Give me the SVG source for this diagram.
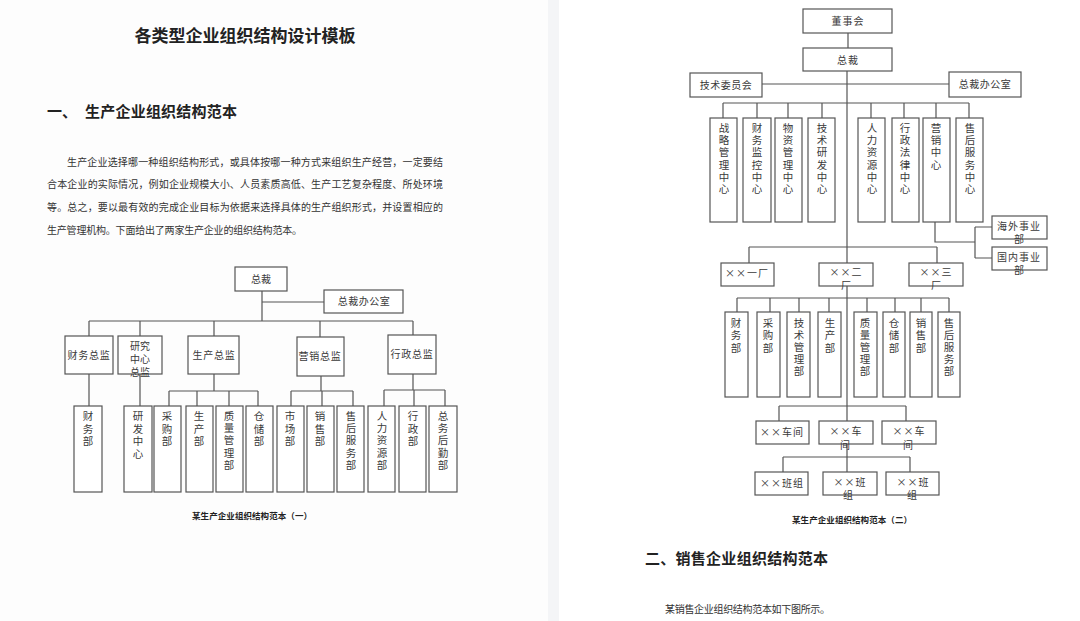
<svg xmlns="http://www.w3.org/2000/svg" width="1080" height="621" viewBox="0 0 1080 621">
<style>
text{font-family:"Noto Sans CJK SC","Noto Sans",sans-serif;fill:#3a3a3a}
.t{font-size:17px;font-weight:bold;fill:#222}
.h{font-size:15px;font-weight:bold;fill:#222}
.p{font-size:10px;fill:#333}
.cap{font-size:8.5px;font-weight:bold;fill:#222}
.n{font-size:10px;text-anchor:middle}
.v{font-size:10.5px;writing-mode:vertical-rl;text-anchor:start;letter-spacing:2px}
.v2{font-size:10.5px;writing-mode:vertical-rl;text-anchor:start;letter-spacing:1.6px}
rect{fill:#fff;stroke:#555;stroke-width:1.2}
.c path{fill:none;stroke:#555;stroke-width:1.2}
</style>
<rect x="0" y="0" width="548" height="621" style="fill:#fdfdfd;stroke:none"/>
<rect x="548" y="0" width="11" height="621" style="fill:#f4f5f7;stroke:none"/>
<rect x="559" y="0" width="521" height="621" style="fill:#fff;stroke:none"/>

<text class="t" x="245" y="42" text-anchor="middle">各类型企业组织结构设计模板</text>
<text class="h" x="47" y="116.5">一、</text>
<text class="h" x="85" y="116.5" textLength="152">生产企业组织结构范本</text>
<text class="p" x="67" y="165.5" textLength="376">生产企业选择哪一种组织结构形式，或具体按哪一种方式来组织生产经营，一定要结</text>
<text class="p" x="47" y="187.5" textLength="396">合本企业的实际情况，例如企业规模大小、人员素质高低、生产工艺复杂程度、所处环境</text>
<text class="p" x="47" y="210.5" textLength="396">等。总之，要以最有效的完成企业目标为依据来选择具体的生产组织形式，并设置相应的</text>
<text class="p" x="47" y="233.5" textLength="255">生产管理机构。下面给出了两家生产企业的组织结构范本。</text>

<g id="connectors1" class="c">
<path d="M262,291V321M262,302H324M89,321H413M89,321V336M140,321V336M214,321V336M320,321V337M413,321V335"/>
<path d="M89,374V406M140,374V406"/>
<path d="M214,374V391M169,391H258M169,391V406M197,391V406M229,391V406M258,391V406"/>
<path d="M321,376V391M291,391H353M291,391V406M322,391V406M353,391V406"/>
<path d="M413,374V390M384,390H445M384,390V406M414,390V406M445,390V406"/>
</g>

<g id="c1-ceo"><rect x="235" y="267" width="52" height="24"/><text class="n" x="261" y="283">总裁</text></g>
<g id="c1-office"><rect x="324" y="290" width="79" height="23"/><text class="n" x="364" y="305" letter-spacing="0.5">总裁办公室</text></g>
<g id="c1-cfo"><rect x="65" y="336" width="48" height="38"/><text class="n" x="89" y="359" letter-spacing="0.8">财务总监</text></g>
<g id="c1-rd"><rect x="118" y="336" width="44" height="38"/><text class="n" x="140" y="349.5">研究</text><text class="n" x="140" y="362.5">中心</text><text class="n" x="140" y="375.5">总监</text></g>
<g id="c1-prod"><rect x="188" y="336" width="51" height="38"/><text class="n" x="214" y="359" letter-spacing="0.8">生产总监</text></g>
<g id="c1-mkt"><rect x="297" y="337" width="47" height="39"/><text class="n" x="320" y="360" letter-spacing="0.8">营销总监</text></g>
<g id="c1-adm"><rect x="388" y="335" width="48" height="39"/><text class="n" x="412" y="358" letter-spacing="0.8">行政总监</text></g>

<g id="c1-b1"><rect x="74" y="406" width="28" height="86"/><text class="v" x="88" y="411">财务部</text></g>
<g id="c1-b2"><rect x="124" y="406" width="28" height="86"/><text class="v" x="138" y="411">研发中心</text></g>
<g id="c1-b3"><rect x="154" y="406" width="27" height="86"/><text class="v" x="167" y="411">采购部</text></g>
<g id="c1-b4"><rect x="186" y="406" width="27" height="86"/><text class="v" x="199" y="411">生产部</text></g>
<g id="c1-b5"><rect x="216" y="406" width="27" height="86"/><text class="v2" x="229" y="411">质量管理部</text></g>
<g id="c1-b6"><rect x="246" y="406" width="27" height="86"/><text class="v" x="259" y="411">仓储部</text></g>
<g id="c1-b7"><rect x="277" y="406" width="27" height="86"/><text class="v" x="290" y="411">市场部</text></g>
<g id="c1-b8"><rect x="307" y="406" width="27" height="86"/><text class="v" x="320" y="411">销售部</text></g>
<g id="c1-b9"><rect x="337" y="406" width="27" height="86"/><text class="v2" x="351" y="411">售后服务部</text></g>
<g id="c1-b10"><rect x="368" y="406" width="27" height="86"/><text class="v2" x="382" y="411">人力资源部</text></g>
<g id="c1-b11"><rect x="399" y="406" width="27" height="86"/><text class="v" x="413" y="411">行政部</text></g>
<g id="c1-b12"><rect x="429" y="406" width="28" height="86"/><text class="v2" x="443" y="411">总务后勤部</text></g>

<text class="cap" x="192" y="519" textLength="120">某生产企业组织结构范本（一）</text>

<g id="connectors2" class="c">
<path d="M848,33V48M847,71V472M762,84H949"/>
<path d="M723,103H969M723,103V118M757,103V118M788,103V118M822,103V118M871,103V118M904,103V118M936,103V118M969,103V118"/>
<path d="M935,222V242H975M975,227V258M975,227H992M975,258H992"/>
<path d="M749,247H937M749,247V263M937,247V263"/>
<path d="M737,298H949M737,298V312M770,298V312M799,298V312M829,298V312M867,298V312M895,298V312M921,298V312M949,298V312"/>
<path d="M779,406H906M779,406V421M906,406V421"/>
<path d="M783,457H910M783,457V472M910,457V472"/>
</g>

<g id="c2-board"><rect x="803" y="9" width="89" height="24"/><text class="n" x="848" y="25" letter-spacing="1">董事会</text></g>
<g id="c2-ceo"><rect x="803" y="48" width="89" height="23"/><text class="n" x="848" y="63.5" letter-spacing="1">总裁</text></g>
<g id="c2-tech"><rect x="690" y="73" width="72" height="24"/><text class="n" x="726" y="88.5" letter-spacing="0.5">技术委员会</text></g>
<g id="c2-office"><rect x="949" y="72" width="72" height="25"/><text class="n" x="985" y="88" letter-spacing="0.5">总裁办公室</text></g>

<g id="c2-m1"><rect x="710" y="118" width="27" height="104"/><text class="v2" x="724" y="123">战略管理中心</text></g>
<g id="c2-m2"><rect x="743" y="118" width="28" height="104"/><text class="v2" x="757" y="123">财务监控中心</text></g>
<g id="c2-m3"><rect x="775" y="118" width="27" height="104"/><text class="v2" x="788" y="123">物资管理中心</text></g>
<g id="c2-m4"><rect x="808" y="118" width="27" height="104"/><text class="v2" x="822" y="123">技术研发中心</text></g>
<g id="c2-m5"><rect x="858" y="118" width="27" height="104"/><text class="v2" x="872" y="123">人力资源中心</text></g>
<g id="c2-m6"><rect x="892" y="118" width="27" height="104"/><text class="v2" x="905" y="123">行政法律中心</text></g>
<g id="c2-m7"><rect x="923" y="118" width="27" height="104"/><text class="v2" x="936" y="123">营销中心</text></g>
<g id="c2-m8"><rect x="956" y="118" width="27" height="104"/><text class="v2" x="970" y="123">售后服务中心</text></g>

<g id="c2-overseas"><rect x="992" y="216" width="55" height="23"/><text class="n" x="1019" y="229.5" letter-spacing="1">海外事业</text><text class="n" x="1019" y="243">部</text></g>
<g id="c2-domestic"><rect x="992" y="247" width="55" height="23"/><text class="n" x="1019" y="261" letter-spacing="1">国内事业</text><text class="n" x="1019" y="274">部</text></g>

<g id="c2-f1"><rect x="721" y="263" width="53" height="23"/><text class="n" x="747" y="277" letter-spacing="1">××一厂</text></g>
<g id="c2-f2"><rect x="819" y="263" width="54" height="23"/><text class="n" x="846" y="275.5" letter-spacing="1">××二</text><text class="n" x="846" y="289">厂</text></g>
<g id="c2-f3"><rect x="909" y="263" width="54" height="23"/><text class="n" x="936" y="275.5" letter-spacing="1">××三</text><text class="n" x="936" y="289">厂</text></g>

<g id="c2-d1"><rect x="725" y="312" width="23" height="85"/><text class="v" x="736" y="317.5">财务部</text></g>
<g id="c2-d2"><rect x="757" y="312" width="23" height="85"/><text class="v" x="768" y="317.5">采购部</text></g>
<g id="c2-d3"><rect x="787" y="312" width="23" height="85"/><text class="v2" x="799" y="317.5">技术管理部</text></g>
<g id="c2-d4"><rect x="818" y="312" width="23" height="85"/><text class="v" x="830" y="317.5">生产部</text></g>
<g id="c2-d5"><rect x="854" y="312" width="23" height="85"/><text class="v2" x="865" y="317.5">质量管理部</text></g>
<g id="c2-d6"><rect x="883" y="312" width="22" height="85"/><text class="v" x="894" y="317.5">仓储部</text></g>
<g id="c2-d7"><rect x="910" y="312" width="22" height="85"/><text class="v" x="921" y="317.5">销售部</text></g>
<g id="c2-d8"><rect x="938" y="312" width="22" height="85"/><text class="v2" x="949" y="317.5">售后服务部</text></g>

<g id="c2-w1"><rect x="756" y="421" width="53" height="23"/><text class="n" x="782" y="435.5" letter-spacing="1">××车间</text></g>
<g id="c2-w2"><rect x="819" y="421" width="54" height="23"/><text class="n" x="846" y="435" letter-spacing="1">××车</text><text class="n" x="845" y="448.5">间</text></g>
<g id="c2-w3"><rect x="882" y="421" width="54" height="23"/><text class="n" x="909" y="435" letter-spacing="1">××车</text><text class="n" x="908" y="448.5">间</text></g>

<g id="c2-t1"><rect x="755" y="472" width="53" height="23"/><text class="n" x="782" y="486.5" letter-spacing="1">××班组</text></g>
<g id="c2-t2"><rect x="823" y="472" width="54" height="23"/><text class="n" x="850" y="486" letter-spacing="1">××班</text><text class="n" x="848" y="499">组</text></g>
<g id="c2-t3"><rect x="886" y="472" width="53" height="23"/><text class="n" x="913" y="486" letter-spacing="1">××班</text><text class="n" x="912" y="499">组</text></g>

<text class="cap" x="792" y="523" textLength="120">某生产企业组织结构范本（二）</text>
<text class="h" x="645" y="563.5" textLength="183">二、销售企业组织结构范本</text>
<text class="p" x="665" y="612.5" textLength="165">某销售企业组织结构范本如下图所示。</text>
</svg>
